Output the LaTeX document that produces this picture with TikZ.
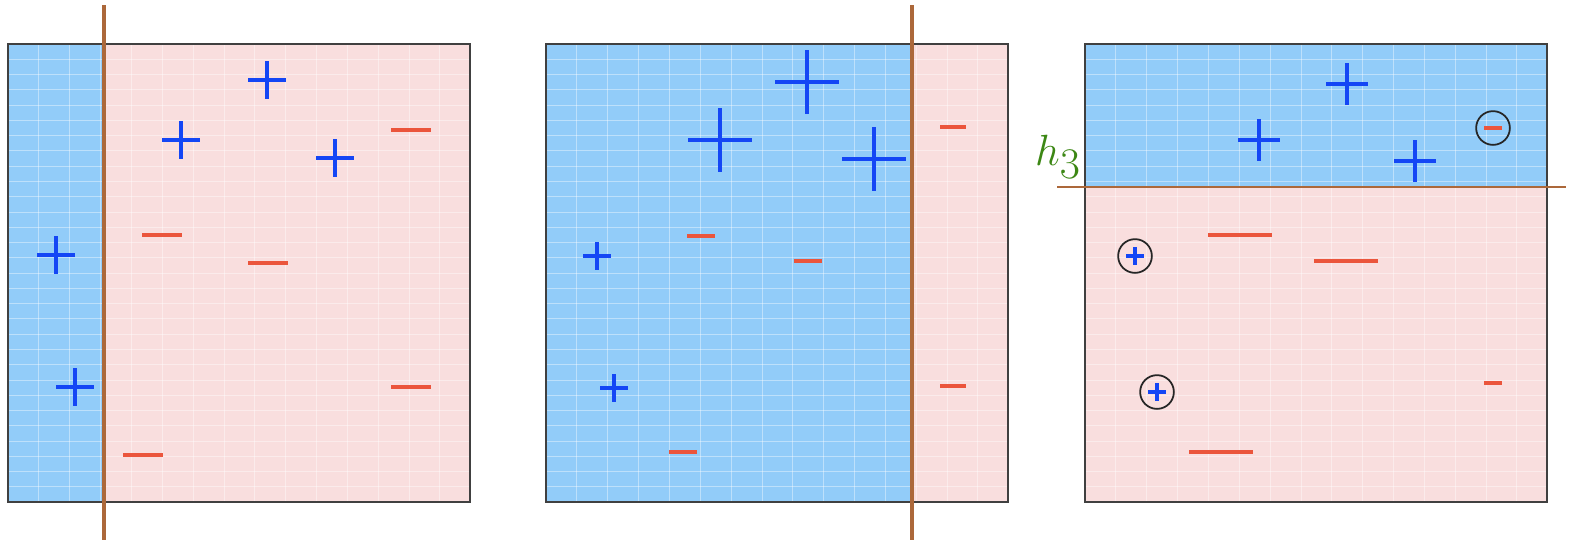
\documentclass[tikz,border=0pt]{standalone}
\usepackage{tikz}
\usetikzlibrary{positioning}
\definecolor{regblue}{RGB}{146,204,249}
\definecolor{regpink}{RGB}{249,222,222}
\definecolor{ptblue}{RGB}{20,70,245}
\definecolor{ptred}{RGB}{235,85,60}
\definecolor{sepbrown}{RGB}{172,104,58}
\definecolor{labgreen}{RGB}{60,135,20}

\begin{document}
\begin{tikzpicture}[
    x=0.02cm, y=-0.02cm,
    gridln/.style={white, opacity=0.4, line width=0.5pt},
    frame/.style={draw=black!75, line width=1.6pt},
    plusmark/.style={ptblue, line width=2pt},
    minusmark/.style={ptred, line width=2pt},
    sepline/.style={sepbrown, line width=2pt},
    ring/.style={black!85, line width=1pt},
]
\useasboundingbox (0,0) rectangle (1569,542);

% regions
\fill[regblue] (8,44) rectangle (104,502);
\fill[regpink] (104,44) rectangle (470,502);
\fill[regblue] (546,44) rectangle (912,502);
\fill[regpink] (912,44) rectangle (1008,502);
\fill[regblue] (1085,44) rectangle (1548,187);
\fill[regpink] (1085,187) rectangle (1548,502);

% grid
\foreach \ox in {8,546,1085} {
  \foreach \i in {1,...,14}
    \draw[gridln] ({\ox+\i*30.85},44) -- ({\ox+\i*30.85},502);
  \foreach \j in {1,...,29}
    \draw[gridln] (\ox,{44+\j*15.27}) -- ({\ox+462},{44+\j*15.27});
  \draw[frame] (\ox,44) rectangle ({\ox+462},502);
}

% separators
\draw[sepline] (104,5) -- (104,540);
\draw[sepline] (912,5) -- (912,540);
\draw[sepline, line width=1.6pt] (1057,187) -- (1566,187);
\node[text=labgreen, font=\fontsize{26}{28}\selectfont, inner sep=0pt] (hlabel) at (1058,157) {$h_{\textstyle 3}$};

% positive points
\foreach \x/\y/\h in {267/80/19, 181/140/19, 335/158/19, 56/255/19, 75/387/19,
    807/82/32, 720/140/32, 874/159/32, 597/256/14, 614/388/14,
    1347/84/21, 1259/140/21, 1415/161/21, 1135/256/9, 1157/392/9}
  \draw[plusmark] (\x-\h,\y) -- (\x+\h,\y) (\x,\y-\h) -- (\x,\y+\h);

% negative points
\foreach \x/\y/\h in {411/130/20, 162/235/20, 268/263/20, 411/387/20, 143/455/20,
    953/127/13, 701/236/14, 808/261/14, 953/386/13, 683/452/14,
    1240/235/32, 1346/261/32, 1221/452/32, 1493/383/9, 1493/128/9}
  \draw[minusmark] (\x-\h,\y) -- (\x+\h,\y);

% misclassified
\foreach \x/\y in {1493/128, 1135/256, 1157/392}
  \draw[ring] (\x,\y) circle[radius=9.6pt];
\end{tikzpicture}
\end{document}
